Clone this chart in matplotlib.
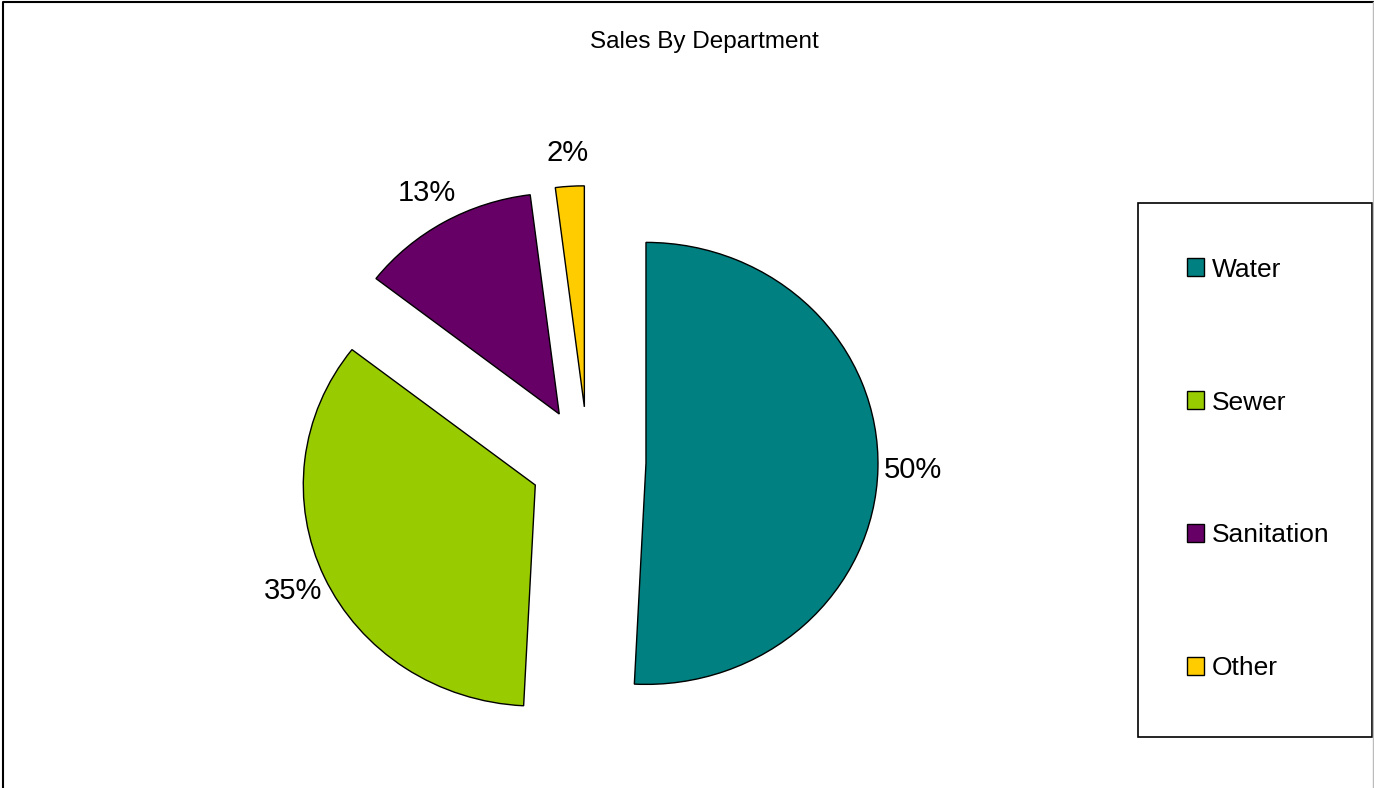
import numpy as np
import matplotlib.pyplot as plt
from matplotlib.patches import Patch, Rectangle
from matplotlib.lines import Line2D

plt.rcParams['font.family'] = ['Liberation Sans', 'DejaVu Sans']

# data
departments = ["Water", "Sewer", "Sanitation", "Other"]
sales_share = [50.8, 34.7, 12.5, 2.0]
pct_labels = ["50%", "35%", "13%", "2%"]
colors = ["#008080", "#99CC00", "#660066", "#FFCC00"]

W, H = 1374, 788
fig = plt.figure(figsize=(W / 100, H / 100), dpi=100)

# pie axes spans whole figure, scaled so the pie lands where it should
ax = fig.add_axes([0, 0, 1, 1])
rx, ry = 232.0, 221.0          # slightly wider than tall, like the original
cx, cy = 588.0, H - 462.0      # pie centre in pixels

wedges, _ = ax.pie(sales_share, colors=colors, startangle=90, counterclock=False,
                   explode=[0.25] * len(sales_share), radius=1,
                   wedgeprops=dict(edgecolor="black", linewidth=1))
ax.set_aspect('auto')
ax.set_xlim(-cx / rx, (W - cx) / rx)
ax.set_ylim(-cy / ry, (H - cy) / ry)
ax.axis('off')

# percentage labels just outside each exploded wedge
for w, lab in zip(wedges, pct_labels):
    ang = np.deg2rad((w.theta1 + w.theta2) / 2)
    x0, y0 = w.center
    ax.text(x0 + 1.15 * np.cos(ang), y0 + 1.15 * np.sin(ang), lab,
            ha='center', va='center', fontsize=21)

fig.text(704 / W, 1 - 42 / H, "Sales By Department", ha='center', va='center',
         fontsize=17.5)

# legend: box drawn by hand, entries placed inside it
fig.patches.append(Rectangle((1138 / W, 1 - 737 / H), 234 / W, 534 / H,
                             transform=fig.transFigure, fill=False,
                             edgecolor='black', linewidth=1.2))
handles = [Patch(facecolor=c, edgecolor='black', linewidth=1) for c in colors]
leg = fig.legend(handles, departments, loc='center left',
                 bbox_to_anchor=(1187 / W, 1 - 469 / H), fontsize=19,
                 frameon=False, borderpad=0, labelspacing=4.13,
                 handlelength=0.65, handleheight=0.65, handletextpad=0.3,
                 borderaxespad=0)

# outer border: dark on left and top, light grey on right
fig.lines.append(Line2D([0.002, 0.002, 0.9995], [0, 0.9975, 0.9975],
                        transform=fig.transFigure, color='black', linewidth=1.5))
fig.lines.append(Line2D([0.9995, 0.9995], [0, 0.9975],
                        transform=fig.transFigure, color='#bbbbbb', linewidth=1))

fig.savefig("out.png", dpi=100, facecolor='white')
